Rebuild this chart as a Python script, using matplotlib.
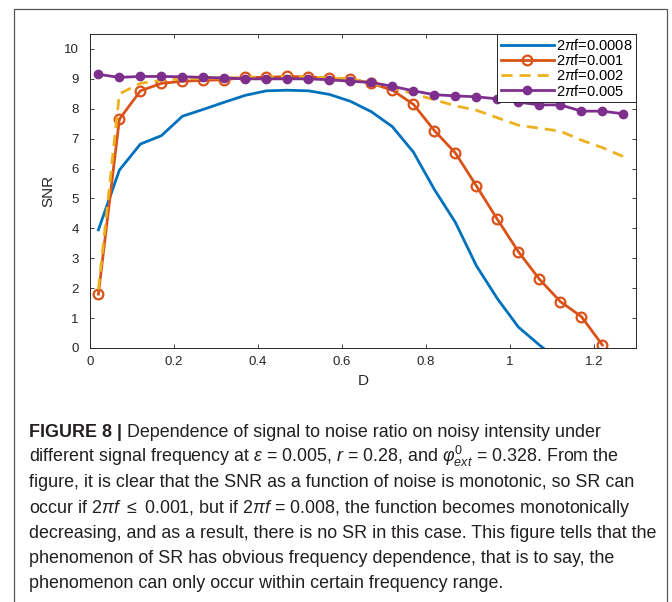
import matplotlib
matplotlib.use("Agg")
import matplotlib.pyplot as plt
from matplotlib import font_manager
from matplotlib.patches import Rectangle

# noise intensity grid (markers every 0.05)
D = [0.02, 0.07, 0.12, 0.17, 0.22, 0.27, 0.32, 0.37, 0.42, 0.47, 0.52, 0.57, 0.62,
     0.67, 0.72, 0.77, 0.82, 0.87, 0.92, 0.97, 1.02, 1.07, 1.12, 1.17, 1.22, 1.27]

snr_0008 = [3.95, 5.95, 6.82, 7.10, 7.75, 7.98, 8.22, 8.45, 8.60, 8.62, 8.60, 8.48, 8.25,
            7.90, 7.40, 6.55, 5.30, 4.20, 2.75, 1.65, 0.70, 0.10, -0.45]
snr_001 = [1.80, 7.65, 8.60, 8.85, 8.92, 8.95, 8.97, 9.05, 9.05, 9.08, 9.07, 9.02, 9.00,
           8.85, 8.62, 8.15, 7.27, 6.52, 5.42, 4.30, 3.22, 2.30, 1.55, 1.05, 0.10]
snr_002 = [1.95, 8.50, 8.85, 8.95, 9.00, 9.02, 9.03, 9.05, 9.07, 9.08, 9.07, 9.03, 9.00,
           8.85, 8.70, 8.50, 8.30, 8.10, 7.95, 7.70, 7.45, 7.35, 7.25, 6.95, 6.70, 6.40]
snr_005 = [9.15, 9.05, 9.08, 9.08, 9.07, 9.05, 9.03, 9.00, 9.00, 9.00, 9.00, 8.97, 8.92,
           8.88, 8.75, 8.60, 8.47, 8.43, 8.40, 8.33, 8.22, 8.13, 8.13, 7.92, 7.92, 7.83]

labels = ["2$\\pi$f=0.0008", "2$\\pi$f=0.001", "2$\\pi$f=0.002", "2$\\pi$f=0.005"]
xticks = [0, 0.2, 0.4, 0.6, 0.8, 1, 1.2]
xticklabels = ["0", "0.2", "0.4", "0.6", "0.8", "1", "1.2"]
yticks = list(range(0, 11))

caption = [
    " Dependence of signal to noise ratio on noisy intensity under",
    "different signal frequency at $\\varepsilon$ = 0.005, $r$ = 0.28, and $\\varphi^0_{ext}$ = 0.328. From the",
    "figure, it is clear that the SNR as a function of noise is monotonic, so SR can",
    "occur if 2$\\pi f$ $\\leq$ 0.001, but if 2$\\pi f$ = 0.008, the function becomes monotonically",
    "decreasing, and as a result, there is no SR in this case. This figure tells that the",
    "phenomenon of SR has obvious frequency dependence, that is to say, the",
    "phenomenon can only occur within certain frequency range.",
]

names = set(f.name for f in font_manager.fontManager.ttflist)
cap_font = "Liberation Sans Narrow" if "Liberation Sans Narrow" in names else "Liberation Sans"

W, H = 672, 602
plt.rcParams["font.family"] = ["Liberation Sans", "DejaVu Sans"]
plt.rcParams["mathtext.fontset"] = "custom"
plt.rcParams["mathtext.rm"] = cap_font
plt.rcParams["mathtext.it"] = cap_font + ":italic"
fig = plt.figure(figsize=(W / 100, H / 100), dpi=100)

# outer frame
fig.patches.append(Rectangle((14 / W, -0.01), (667 - 14) / W, 1 - 9 / H + 0.01,
                             transform=fig.transFigure, fill=False,
                             edgecolor="#555555", lw=0.9))

ax = fig.add_axes([90 / W, 1 - 348 / H, (636 - 90) / W, (348 - 34) / H])
dark = "#262626"
ax.plot(D[:len(snr_0008)], snr_0008, color="#0072BD", lw=2, label=labels[0])
ax.plot(D[:len(snr_001)], snr_001, color="#D95319", lw=2, marker="o", ms=7,
        mfc="none", mew=1.6, label=labels[1])
ax.plot(D, snr_002, color="#EDB120", lw=2, ls=(0, (4, 2.5)), label=labels[2])
ax.plot(D, snr_005, color="#7E2F8E", lw=2, marker="o", ms=6, label=labels[3])

ax.set_xlim(0, 1.3)
ax.set_ylim(0, 10.5)
ax.set_xticks(xticks)
ax.set_xticklabels(xticklabels)
ax.set_yticks(yticks)
ax.tick_params(direction="in", top=True, right=True, labelsize=9.5, colors=dark,
               length=3, width=0.6)
ax.tick_params(axis="y", pad=8)
ax.tick_params(axis="x", pad=6)
for s in ax.spines.values():
    s.set_color(dark)
    s.set_linewidth(0.7)
ax.set_xlabel("D", fontsize=11, color=dark, labelpad=4)
ax.set_ylabel("SNR", fontsize=11, color=dark, labelpad=6)

leg = ax.legend(loc="upper right", fontsize=10.5, handlelength=3.6, borderaxespad=0,
                fancybox=False, framealpha=1, edgecolor=dark, labelspacing=0.02,
                borderpad=0.25, handletextpad=0.15)
leg.get_frame().set_linewidth(0.7)

# caption
fig.canvas.draw()
renderer = fig.canvas.get_renderer()
x0 = 29 / W
base = 436.7
step = 25.3
fs = 12.9
bold = fig.text(x0, 1 - base / H, "FIGURE 8 |", fontsize=fs, fontweight="bold",
                family=cap_font, color="#231f20", va="baseline")
bb = bold.get_window_extent(renderer)
fig.text(bb.x1 / W, 1 - base / H, caption[0], fontsize=fs, family=cap_font,
         color="#231f20", va="baseline")
for i, line in enumerate(caption[1:], start=1):
    fig.text(x0, 1 - (base + i * step) / H, line, fontsize=fs, family=cap_font,
             color="#231f20", va="baseline")

fig.savefig("out.png", dpi=100)
